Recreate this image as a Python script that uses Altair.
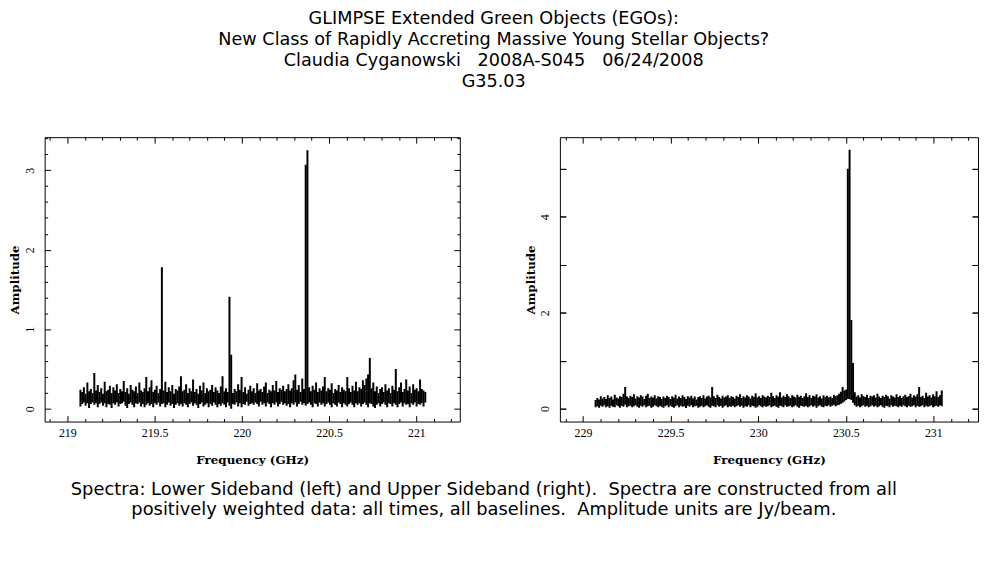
import altair as alt
import pandas as pd

# ---------------- data ----------------
# Spectra are summarised per frequency bin as (lowest, highest) amplitude.
LSB_START_GHZ = 219.075
USB_START_GHZ = 229.072
BIN_GHZ = 0.00993

lsb_hi = [
    0.24, 0.21, 0.27, 0.19, 0.33, 0.22, 0.25, 0.20, 0.45, 0.23, 0.30, 0.21, 0.26, 0.19, 0.34, 0.22, 0.24, 0.29, 0.20, 0.27,
    0.23, 0.31, 0.20, 0.25, 0.22, 0.35, 0.21, 0.26, 0.19, 0.30, 0.24, 0.22, 0.28, 0.20, 0.33, 0.23, 0.21, 0.26, 0.40, 0.22,
    0.27, 0.36, 0.21, 0.24, 0.29, 0.20, 0.25, 1.78, 0.23, 0.34, 0.21, 0.27, 0.22, 0.30, 0.19, 0.25, 0.23, 0.28, 0.41, 0.22,
    0.24, 0.31, 0.20, 0.26, 0.22, 0.37, 0.21, 0.25, 0.19, 0.29, 0.23, 0.33, 0.20, 0.26, 0.22, 0.24, 0.30, 0.21, 0.27, 0.23,
    0.20, 0.28, 0.41, 0.22, 0.26, 0.21, 1.41, 0.68, 0.20, 0.25, 0.22, 0.31, 0.24, 0.40, 0.21, 0.27, 0.19, 0.24, 0.29, 0.22,
    0.26, 0.20, 0.32, 0.23, 0.25, 0.21, 0.28, 0.33, 0.20, 0.24, 0.22, 0.30, 0.23, 0.35, 0.21, 0.26, 0.24, 0.29, 0.22, 0.25,
    0.31, 0.23, 0.26, 0.36, 0.43, 0.24, 0.30, 0.21, 0.38, 0.25, 3.07, 3.25, 0.27, 0.22, 0.29, 0.24, 0.33, 0.21, 0.26, 0.23,
    0.28, 0.40, 0.22, 0.26, 0.24, 0.32, 0.20, 0.25, 0.23, 0.30, 0.21, 0.27, 0.24, 0.22, 0.40, 0.26, 0.21, 0.29, 0.23, 0.34,
    0.22, 0.27, 0.25, 0.36, 0.30, 0.38, 0.43, 0.64, 0.26, 0.33, 0.22, 0.28, 0.20, 0.25, 0.27, 0.21, 0.31, 0.23, 0.26, 0.20,
    0.29, 0.24, 0.50, 0.22, 0.27, 0.33, 0.21, 0.25, 0.37, 0.23, 0.28, 0.20, 0.31, 0.24, 0.26, 0.22, 0.37, 0.25, 0.23, 0.21,
]
lsb_lo = [
    0.03, 0.06, 0.08, 0.04, 0.07, 0.01, 0.06, 0.08, 0.05, 0.07, 0.02, 0.06, 0.08, 0.04, 0.07, 0.02, 0.06, 0.05, 0.01, 0.07,
    0.05, 0.08, 0.03, 0.06, 0.07, 0.09, 0.04, 0.01, 0.06, 0.08, 0.05, 0.02, 0.07, 0.06, 0.08, 0.03, 0.06, 0.02, 0.05, 0.07,
    0.04, 0.06, 0.02, 0.07, 0.05, 0.08, 0.03, 0.06, 0.07, 0.02, 0.05, 0.08, 0.04, 0.06, 0.01, 0.05, 0.07, 0.04, 0.06, 0.03,
    0.07, 0.05, 0.02, 0.06, 0.08, 0.04, 0.07, 0.05, 0.01, 0.06, 0.08, 0.03, 0.05, 0.07, 0.02, 0.06, 0.04, 0.08, 0.05, 0.02,
    0.06, 0.04, 0.07, 0.05, 0.02, 0.08, 0.04, 0.00, 0.06, 0.05, 0.08, 0.03, 0.07, 0.02, 0.06, 0.05, 0.09, 0.04, 0.06, 0.07,
    0.05, 0.08, 0.06, 0.03, 0.09, 0.05, 0.07, 0.03, 0.08, 0.06, 0.02, 0.07, 0.05, 0.08, 0.03, 0.06, 0.09, 0.05, 0.07, 0.04,
    0.06, 0.02, 0.07, 0.05, 0.08, 0.03, 0.06, 0.09, 0.05, 0.07, 0.04, 0.06, 0.08, 0.05, 0.02, 0.07, 0.06, 0.03, 0.08, 0.05,
    0.07, 0.03, 0.06, 0.08, 0.05, 0.02, 0.07, 0.05, 0.03, 0.08, 0.06, 0.02, 0.07, 0.05, 0.03, 0.06, 0.08, 0.05, 0.02, 0.07,
    0.05, 0.07, 0.03, 0.06, 0.08, 0.05, 0.02, 0.07, 0.06, 0.03, 0.01, 0.05, 0.07, 0.03, 0.06, 0.08, 0.05, 0.02, 0.07, 0.06,
    0.03, 0.07, 0.05, 0.02, 0.06, 0.08, 0.03, 0.07, 0.05, 0.06, 0.02, 0.07, 0.05, 0.08, 0.03, 0.06, 0.05, 0.07, 0.03, 0.08,
]

usb_hi = [
    0.18, 0.22, 0.19, 0.26, 0.21, 0.24, 0.20, 0.28, 0.22, 0.25, 0.19, 0.29, 0.23, 0.21, 0.26, 0.24, 0.31, 0.45, 0.25, 0.22,
    0.27, 0.24, 0.30, 0.21, 0.26, 0.23, 0.28, 0.25, 0.20, 0.27, 0.31, 0.22, 0.25, 0.23, 0.28, 0.21, 0.26, 0.24, 0.20, 0.25,
    0.22, 0.27, 0.24, 0.20, 0.26, 0.23, 0.29, 0.21, 0.25, 0.22, 0.28, 0.24, 0.20, 0.26, 0.23, 0.27, 0.21, 0.25, 0.19, 0.24,
    0.26, 0.22, 0.28, 0.21, 0.25, 0.27, 0.23, 0.45, 0.26, 0.22, 0.29, 0.24, 0.21, 0.27, 0.23, 0.25, 0.28, 0.22, 0.26, 0.24,
    0.21, 0.27, 0.24, 0.30, 0.22, 0.26, 0.23, 0.28, 0.25, 0.21, 0.27, 0.24, 0.32, 0.23, 0.26, 0.22, 0.28, 0.25, 0.23, 0.27,
    0.24, 0.33, 0.26, 0.22, 0.28, 0.25, 0.34, 0.23, 0.27, 0.24, 0.30, 0.26, 0.22, 0.28, 0.25, 0.23, 0.29, 0.24, 0.27, 0.22,
    0.26, 0.32, 0.24, 0.28, 0.22, 0.27, 0.25, 0.30, 0.23, 0.26, 0.21, 0.28, 0.24, 0.27, 0.23, 0.25, 0.22, 0.29, 0.26, 0.28,
    0.31, 0.35, 0.45, 0.38, 0.40, 5.00, 5.40, 1.85, 0.95, 0.34, 0.25, 0.28, 0.23, 0.30, 0.26, 0.24, 0.29, 0.22, 0.27, 0.25,
    0.28, 0.23, 0.31, 0.25, 0.22, 0.27, 0.24, 0.29, 0.26, 0.21, 0.28, 0.25, 0.23, 0.30, 0.24, 0.27, 0.22, 0.26, 0.29, 0.24,
    0.26, 0.31, 0.23, 0.28, 0.25, 0.30, 0.45, 0.24, 0.27, 0.22, 0.33, 0.25, 0.28, 0.23, 0.30, 0.26, 0.36, 0.24, 0.28, 0.38,
]
usb_lo = [
    0.03, 0.05, 0.02, 0.06, 0.04, 0.07, 0.03, 0.05, 0.02, 0.06, 0.04, 0.03, 0.07, 0.05, 0.02, 0.06, 0.04, 0.08, 0.03, 0.05,
    0.06, 0.03, 0.05, 0.07, 0.04, 0.02, 0.06, 0.04, 0.07, 0.03, 0.05, 0.06, 0.02, 0.04, 0.07, 0.05, 0.03, 0.06, 0.04, 0.02,
    0.05, 0.07, 0.03, 0.06, 0.04, 0.02, 0.05, 0.07, 0.03, 0.06, 0.04, 0.05, 0.01, 0.06, 0.04, 0.07, 0.03, 0.05, 0.06, 0.02,
    0.04, 0.06, 0.03, 0.05, 0.07, 0.04, 0.02, 0.06, 0.05, 0.03, 0.07, 0.04, 0.06, 0.02, 0.05, 0.07, 0.03, 0.05, 0.04, 0.06,
    0.03, 0.05, 0.07, 0.04, 0.06, 0.02, 0.05, 0.04, 0.07, 0.03, 0.06, 0.05, 0.02, 0.04, 0.07, 0.05, 0.03, 0.06, 0.04, 0.05,
    0.07, 0.03, 0.05, 0.06, 0.04, 0.02, 0.06, 0.05, 0.03, 0.07, 0.04, 0.05, 0.06, 0.03, 0.05, 0.07, 0.04, 0.02, 0.06, 0.05,
    0.04, 0.06, 0.03, 0.05, 0.07, 0.04, 0.06, 0.02, 0.05, 0.07, 0.04, 0.03, 0.06, 0.05, 0.07, 0.04, 0.06, 0.08, 0.05, 0.07,
    0.08, 0.10, 0.12, 0.15, 0.18, 0.20, 0.20, 0.18, 0.12, 0.07, 0.04, 0.06, 0.03, 0.05, 0.07, 0.04, 0.06, 0.03, 0.05, 0.07,
    0.04, 0.06, 0.03, 0.05, 0.07, 0.04, 0.02, 0.06, 0.05, 0.03, 0.07, 0.04, 0.06, 0.05, 0.03, 0.06, 0.04, 0.07, 0.05, 0.03,
    0.06, 0.04, 0.05, 0.07, 0.03, 0.06, 0.04, 0.05, 0.07, 0.03, 0.06, 0.04, 0.05, 0.07, 0.03, 0.05, 0.06, 0.04, 0.07, 0.05,
]

title_lines = [
    "GLIMPSE Extended Green Objects (EGOs):",
    "New Class of Rapidly Accreting Massive Young Stellar Objects?",
    "Claudia Cyganowski \u00a0 2008A-S045 \u00a0 06/24/2008",
    "G35.03",
]
caption_lines = [
    "Spectra: Lower Sideband (left) and Upper Sideband (right). \u00a0Spectra are constructed from all",
    "positively weighted data: all times, all baselines. \u00a0Amplitude units are Jy/beam.",
]

lsb_x_major = [219, 219.5, 220, 220.5, 221]
lsb_x_minor = [218.9, 219.1, 219.2, 219.3, 219.4, 219.6, 219.7, 219.8, 219.9, 220.1,
               220.2, 220.3, 220.4, 220.6, 220.7, 220.8, 220.9, 221.1, 221.2]
lsb_y_major = [0, 1, 2, 3]
lsb_y_minor = [-0.2, 0.2, 0.4, 0.6, 0.8, 1.2, 1.4, 1.6, 1.8, 2.2, 2.4, 2.6, 2.8, 3.2, 3.4]

usb_x_major = [229, 229.5, 230, 230.5, 231]
usb_x_minor = [228.9, 229.1, 229.2, 229.3, 229.4, 229.6, 229.7, 229.8, 229.9, 230.1,
               230.2, 230.3, 230.4, 230.6, 230.7, 230.8, 230.9, 231.1, 231.2]
usb_y_major = [0, 1, 2, 3, 4, 5]
usb_y_labelled = [0, 2, 4]

PH = 287
MAJ, MIN = 6, 3
LABFONT = "Liberation Serif"
TITFONT = "DejaVu Serif"


def panel(start, lo, hi, xdom, ydom, xmaj, xmin, ymaj, ymin, ylab, pw):
    df = pd.DataFrame({
        "freq": [start + i * BIN_GHZ for i in range(len(hi))],
        "lo": lo,
        "hi": hi,
    })
    xs = alt.Scale(domain=xdom, nice=False, zero=False)
    ys = alt.Scale(domain=ydom, nice=False, zero=False)
    common = dict(domain=False, grid=False, tickColor="black", tickWidth=1)

    def xaxis(orient, vals, size, labels, title):
        kw = dict(common)
        if labels:
            kw.update(labels=True, labelFont=LABFONT, labelFontSize=12, labelColor="black",
                      labelPadding=6, format="~g", labelFlush=False, labelOverlap=False,
                      title=title, titleFont=TITFONT, titleFontSize=12, titleFontWeight="bold",
                      titleColor="black", titlePadding=16)
        else:
            kw.update(labels=False, title=None)
        return alt.Axis(orient=orient, values=vals, tickSize=size, offset=-size, **kw)

    def yaxis(orient, vals, size, labels, title):
        kw = dict(common)
        if labels:
            lab_expr = "indexof(%s, datum.value) >= 0 ? datum.label : ''" % str(ylab)
            kw.update(labels=True, labelFont=LABFONT, labelFontSize=12, labelColor="black",
                      labelAngle=270, labelAlign="center", labelBaseline="bottom",
                      labelPadding=8, labelExpr=lab_expr, labelFlush=False, labelOverlap=False,
                      title=title, titleFont=TITFONT, titleFontSize=12, titleFontWeight="bold",
                      titleColor="black", titlePadding=2)
        else:
            kw.update(labels=False, title=None)
        return alt.Axis(orient=orient, values=vals, tickSize=size, offset=-size, **kw)

    base = alt.Chart(df)

    def layer(xax, yax, visible):
        if visible:
            mk = base.mark_rule(color="black", strokeWidth=2, clip=True)
        else:
            mk = base.mark_rule(opacity=0, clip=True)
        return mk.encode(
            x=alt.X("freq:Q", scale=xs, axis=xax),
            y=alt.Y("lo:Q", scale=ys, axis=yax),
            y2="hi:Q",
        )

    l1 = layer(xaxis("bottom", xmaj, MAJ, True, "Frequency (GHz)"),
               yaxis("left", ymaj, MAJ, True, "Amplitude"), True)
    l2 = layer(xaxis("bottom", xmin, MIN, False, None),
               yaxis("left", ymin, MIN, False, None) if ymin else yaxis("left", ymaj, MAJ, False, None), False)
    l3 = layer(xaxis("top", xmaj, MAJ, False, None),
               yaxis("right", ymaj, MAJ, False, None), False)
    l4 = layer(xaxis("top", xmin, MIN, False, None),
               yaxis("right", ymin, MIN, False, None) if ymin else yaxis("right", ymaj, MAJ, False, None), False)
    return alt.layer(l1, l2, l3, l4).resolve_axis(x="independent", y="independent").properties(
        width=pw, height=PH)


left = panel(LSB_START_GHZ, lsb_lo, lsb_hi, [218.87, 221.249], [-0.16, 3.415],
             lsb_x_major, lsb_x_minor, lsb_y_major, lsb_y_minor, lsb_y_major, 419)
right = panel(USB_START_GHZ, usb_lo, usb_hi, [228.868, 231.255], [-0.27, 5.66],
              usb_x_major, usb_x_minor, usb_y_major, None, usb_y_labelled, 422)

inner = alt.hconcat(left, right, spacing=63).properties(
    title=alt.TitleParams(text=caption_lines, orient="bottom", anchor="middle",
                          font="DejaVu Sans", fontSize=18, dx=-10,
                          fontWeight="normal", color="black", lineHeight=20, offset=16,
                          frame="bounds"))

chart = alt.vconcat(inner).properties(
    title=alt.TitleParams(text=title_lines, anchor="middle", font="DejaVu Sans",
                          fontSize=17.8, fontWeight="normal", color="black",
                          lineHeight=21, offset=46, frame="bounds"),
    padding={"left": 0, "top": 0, "right": 0, "bottom": 0},
).configure_view(stroke="black", strokeWidth=1)

chart.save("out.html", embed_options={"renderer": "svg", "actions": False})
